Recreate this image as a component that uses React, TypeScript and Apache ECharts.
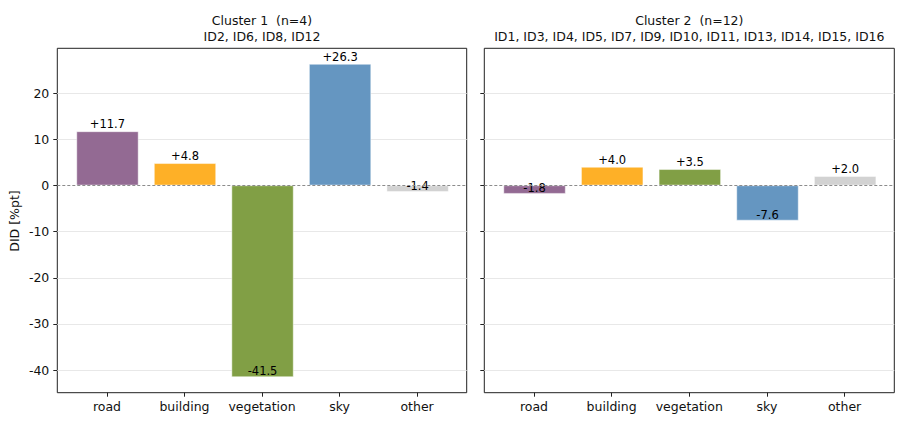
import { useEffect, useRef } from "react";
import * as echarts from "echarts";

const categories = ["road", "building", "vegetation", "sky", "other"];
const cluster1Values = [11.7, 4.8, -41.5, 26.3, -1.4];
const cluster2Values = [-1.8, 4.0, 3.5, -7.6, 2.0];
const barColors = ["#936a93", "#feb027", "#819f45", "#6596c1", "#d2d2d2"];
const yTicks = [-40, -30, -20, -10, 0, 10, 20];
const titles = [
  "Cluster 1  (n=4)\nID2, ID6, ID8, ID12",
  "Cluster 2  (n=12)\nID1, ID3, ID4, ID5, ID7, ID9, ID10, ID11, ID13, ID14, ID15, ID16",
];

const FONT = "'DejaVu Sans', sans-serif";
const Y_MIN = -44.89;
const Y_MAX = 29.69;

export default function App() {
  const chartRef = useRef<HTMLDivElement>(null);

  useEffect(() => {
    document.body.style.margin = "0";
    if (!chartRef.current) return;
    const chart = echarts.init(chartRef.current, null, { renderer: "svg" });

    const grids = [
      { left: 57.3, top: 48.3, width: 409.4, height: 344.4 },
      { left: 484.3, top: 48.3, width: 410, height: 344.4 },
    ];

    const fmt = (v: number) => (v > 0 ? "+" + v.toFixed(1) : v.toFixed(1));

    const barData = (vals: number[]) =>
      vals.map((v, i) => ({
        value: [i, v],
        itemStyle: { color: barColors[i] },
        label: {
          show: true,
          position: v >= 0 ? "top" : "insideBottom",
          distance: v >= 0 ? 1 : 0,
          formatter: fmt(v),
          fontSize: 11.5,
          fontFamily: FONT,
          color: "#000",
        },
      }));

    const allValues = [cluster1Values, cluster2Values];

    const series: any[] = [];
    allValues.forEach((vals, gi) => {
      // gridlines behind bars
      series.push({
        type: "bar",
        xAxisIndex: gi,
        yAxisIndex: gi,
        data: [],
        z: 1,
        silent: true,
        markLine: {
          z: 1,
          silent: true,
          symbol: "none",
          label: { show: false },
          lineStyle: { color: "#e8e8e8", width: 1, type: "solid" },
          data: yTicks.filter((t) => t !== 0).map((t) => ({ yAxis: t })),
        },
      });
      series.push({
        type: "bar",
        xAxisIndex: gi,
        yAxisIndex: gi,
        barWidth: (0.8 / 5.28) * grids[gi].width,
        z: 2,
        itemStyle: { borderColor: "rgba(255,255,255,0.8)", borderWidth: 0.6 },
        data: barData(vals),
        markLine: {
          z: 5,
          silent: true,
          symbol: "none",
          label: { show: false },
          lineStyle: { color: "#8c8c8c", width: 1, type: [3, 2] },
          data: [{ yAxis: 0 }],
        },
      });
    });

    const option: echarts.EChartsOption = {
      animation: false,
      backgroundColor: "#fff",
      textStyle: { fontFamily: FONT },
      title: titles.map((t, gi) => ({
        text: t,
        left: grids[gi].left + grids[gi].width / 2,
        top: 13.3,
        textAlign: "center",
        padding: 0,
        textStyle: {
          fontSize: 12.5,
          fontWeight: "normal",
          color: "#111",
          lineHeight: 15.3,
          fontFamily: FONT,
        },
      })),
      grid: grids.map((g) => ({
        ...g,
        show: true,
        borderColor: "#222",
        borderWidth: 1,
        backgroundColor: "transparent",
      })),
      xAxis: grids.map((_, gi) => ({
        type: "value",
        gridIndex: gi,
        position: "bottom",
        min: -0.64,
        max: 4.64,
        axisLine: { show: false, onZero: false },
        splitLine: { show: false },
        axisTick: {
          show: true,
          length: 4,
          customValues: [0, 1, 2, 3, 4],
          lineStyle: { color: "#222" },
        },
        axisLabel: {
          customValues: [0, 1, 2, 3, 4],
          formatter: (v: number) => categories[Math.round(v)] ?? "",
          fontSize: 12.5,
          color: "#111",
          margin: 7,
          fontFamily: FONT,
        },
      })),
      yAxis: grids.map((_, gi) => ({
        type: "value",
        gridIndex: gi,
        position: "left",
        min: Y_MIN,
        max: Y_MAX,
        axisLine: { show: false, onZero: false },
        splitLine: { show: false },
        axisTick: {
          show: true,
          length: 4,
          customValues: yTicks,
          lineStyle: { color: "#222" },
        },
        axisLabel: {
          show: gi === 0,
          customValues: yTicks,
          fontSize: 12.5,
          color: "#111",
          margin: 8,
          fontFamily: FONT,
        },
      })),
      graphic: [
        {
          type: "text",
          x: 14,
          y: 221,
          rotation: Math.PI / 2,
          style: {
            text: "DID [%pt]",
            fontSize: 12.5,
            fontFamily: FONT,
            fill: "#111",
            textAlign: "center",
            textVerticalAlign: "middle",
          },
        },
      ],
      series,
    };

    chart.setOption(option);

    return () => {
      chart.dispose();
    };
  }, []);

  return <div ref={chartRef} style={{ width: "904px", height: "424px" }} />;
}
